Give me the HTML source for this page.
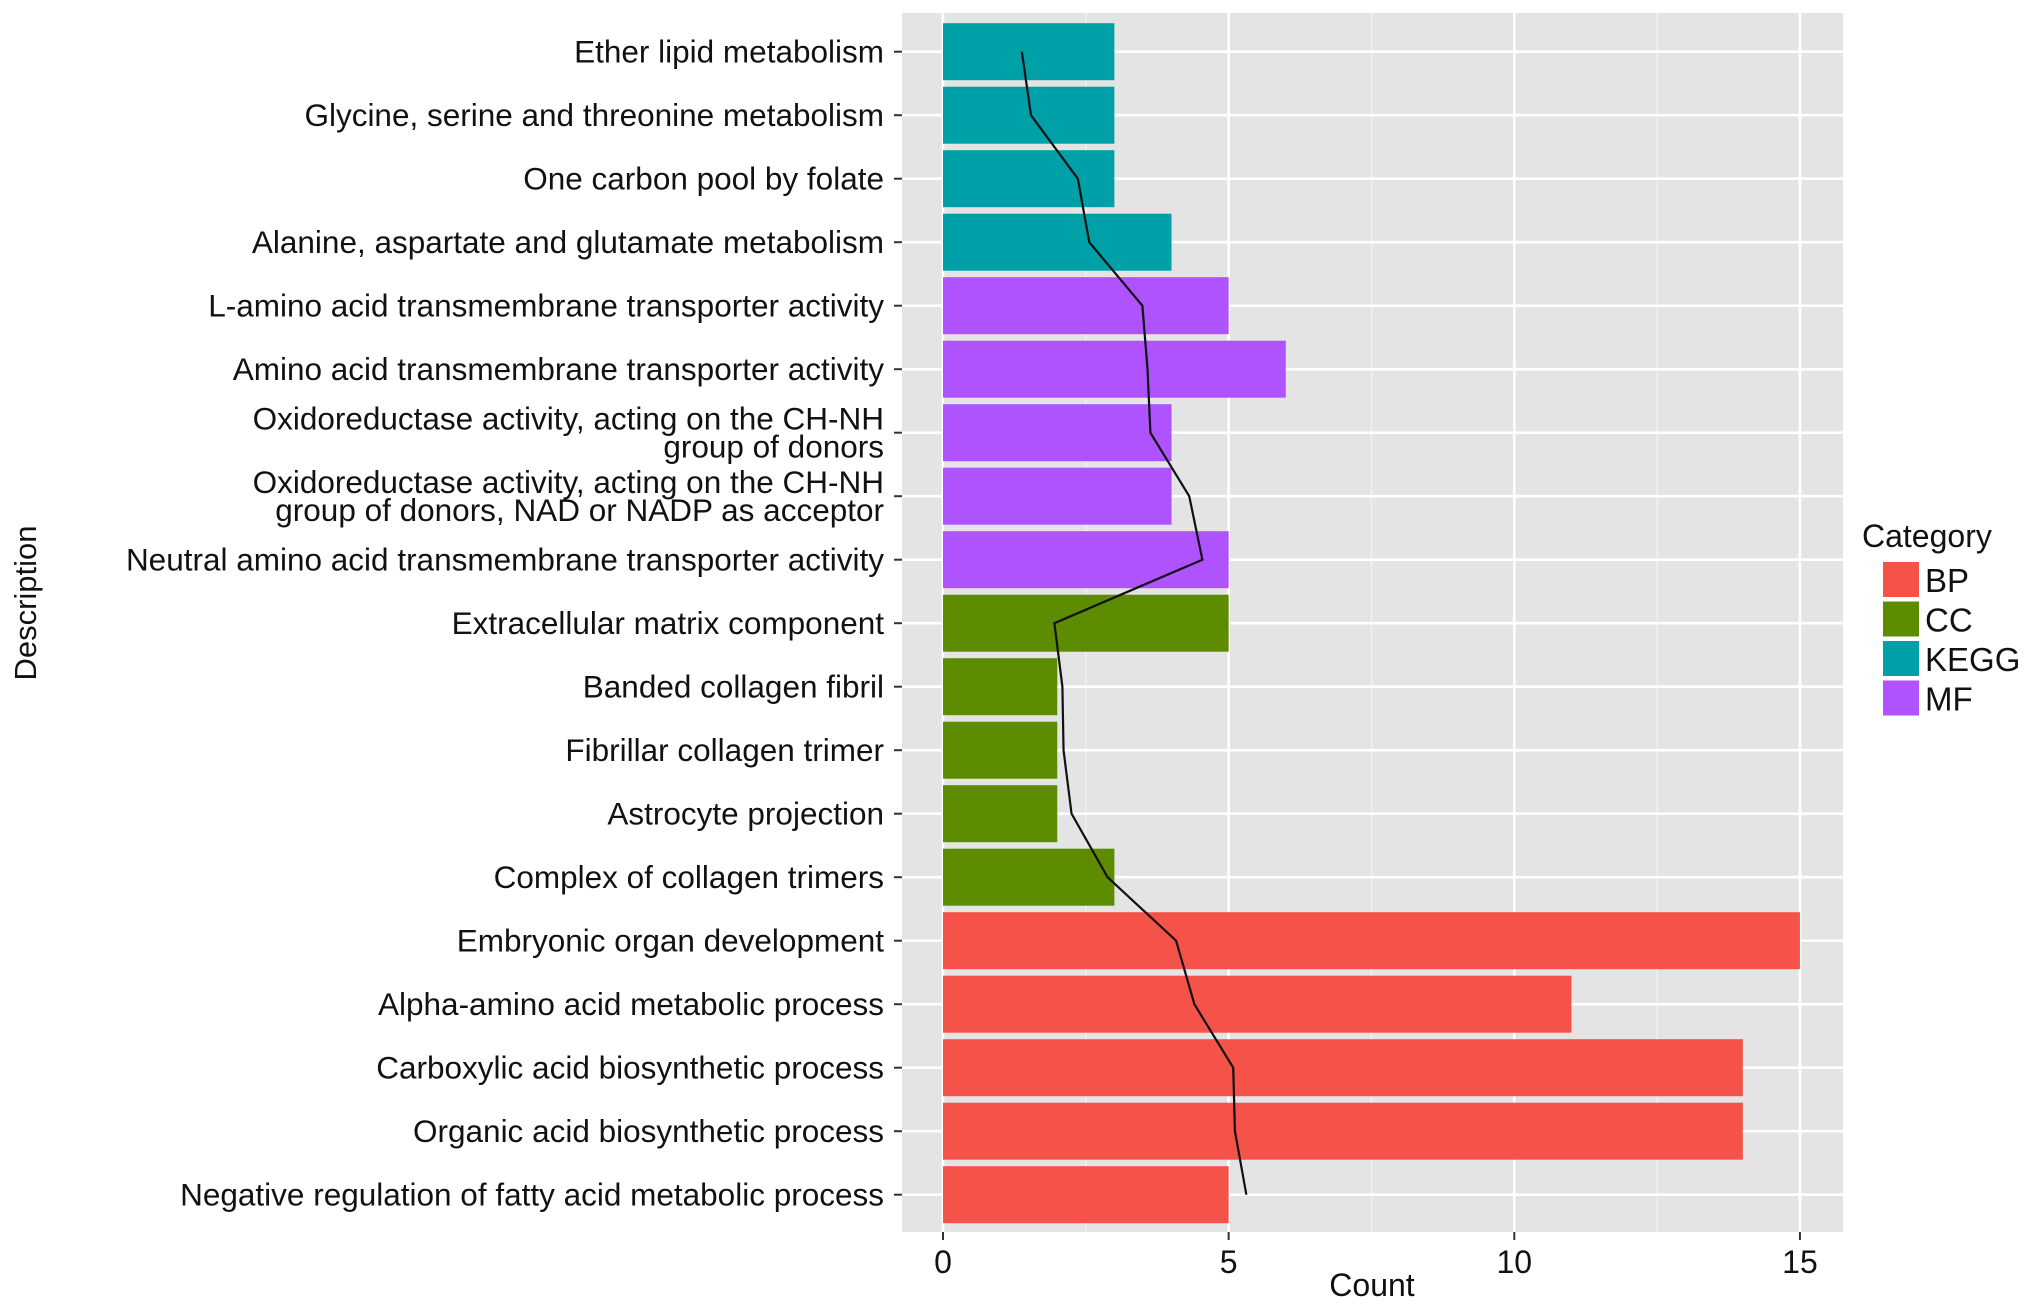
<!DOCTYPE html>
<html><head><meta charset="utf-8"><style>
html,body{margin:0;padding:0;background:#fff;}
svg{display:block;font-family:"Liberation Sans",Arial,sans-serif;}
</style></head><body>
<svg id="chart" width="2032" height="1310" viewBox="0 0 2032 1310" xmlns="http://www.w3.org/2000/svg">
<rect x="902" y="13" width="941" height="1219" fill="#E4E4E4"/>
<g id="grid"></g><g id="bars"></g><g id="line"></g><g id="yaxis"></g><g id="xaxis"></g>
<text x="1372" y="1296" font-size="32" text-anchor="middle" fill="#111">Count</text>
<text transform="translate(36,603) rotate(-90)" font-size="31" text-anchor="middle" fill="#111">Description</text>
<g>
<text x="1862" y="547" font-size="32" fill="#111">Category</text>
<g id="legend"></g>
</g>
</svg>
<script>
const labels=[["Ether lipid metabolism"],["Glycine, serine and threonine metabolism"],["One carbon pool by folate"],["Alanine, aspartate and glutamate metabolism"],["L-amino acid transmembrane transporter activity"],["Amino acid transmembrane transporter activity"],["Oxidoreductase activity, acting on the CH-NH","group of donors"],["Oxidoreductase activity, acting on the CH-NH","group of donors, NAD or NADP as acceptor"],["Neutral amino acid transmembrane transporter activity"],["Extracellular matrix component"],["Banded collagen fibril"],["Fibrillar collagen trimer"],["Astrocyte projection"],["Complex of collagen trimers"],["Embryonic organ development"],["Alpha-amino acid metabolic process"],["Carboxylic acid biosynthetic process"],["Organic acid biosynthetic process"],["Negative regulation of fatty acid metabolic process"]];
const categories=["KEGG","KEGG","KEGG","KEGG","MF","MF","MF","MF","MF","CC","CC","CC","CC","CC","BP","BP","BP","BP","BP"];
const counts=[3,3,3,4,5,6,4,4,5,5,2,2,2,3,15,11,14,14,5];
const lineValues=[1.38,1.54,2.36,2.56,3.49,3.58,3.63,4.31,4.54,1.95,2.09,2.11,2.25,2.88,4.08,4.40,5.08,5.11,5.31];
const xTicks=[0,5,10,15];
const xMinor=[2.5,7.5,12.5];
const legendCats=["BP","CC","KEGG","MF"];
const colors={BP:"#F5524A",CC:"#5E8C00",KEGG:"#00A0A8",MF:"#AF52FF"};
const NS="http://www.w3.org/2000/svg";
const x=v=>943+v*57.13;
const y=i=>51.7+i*63.5;
const bh=57;
function mk(t,a,p){const e=document.createElementNS(NS,t);for(const k in a)e.setAttribute(k,a[k]);p.appendChild(e);return e;}
const grid=document.getElementById('grid');
xMinor.forEach(v=>{const l=mk('line',{x1:x(v),x2:x(v),y1:13,y2:1232,stroke:'#F2F2F2','stroke-width':1.3},grid);

});
xTicks.forEach(v=>{const l=mk('line',{x1:x(v),x2:x(v),y1:13,y2:1232,stroke:'#fff','stroke-width':2.6},grid);

});
labels.forEach((_,i)=>{const l=mk('line',{x1:902,x2:1843,y1:y(i),y2:y(i),stroke:'#fff','stroke-width':2.6},grid);

});
const bars=document.getElementById('bars');
counts.forEach((c,i)=>{const r=mk('rect',{x:x(0),y:y(i)-bh/2,width:x(c)-x(0),height:bh,fill:colors[categories[i]]},bars);

});
const pl=mk('polyline',{points:lineValues.map((v,i)=>x(v)+','+y(i)).join(' '),fill:'none',stroke:'#111','stroke-width':2.2},document.getElementById('line'));


const ya=document.getElementById('yaxis');
labels.forEach((lb,i)=>{
 const tk=mk('line',{x1:894,x2:902,y1:y(i),y2:y(i),stroke:'#333','stroke-width':2},ya);
 
 
 const t=mk('text',{x:884,'font-size':31.5,'text-anchor':'end',fill:'#111'},ya);
 
 
 const n=lb.length, off=-(n-1)*28/2;
 lb.forEach((s,j)=>{const ts=mk('tspan',{x:884,y:y(i)+off+j*28+11},t);ts.textContent=s;});
});
const xa=document.getElementById('xaxis');
xTicks.forEach(v=>{
 const tk=mk('line',{x1:x(v),x2:x(v),y1:1232,y2:1240,stroke:'#333','stroke-width':2},xa);
 
 
 const t=mk('text',{x:x(v),y:1273,'font-size':32,'text-anchor':'middle',fill:'#111'},xa);
 
 
 t.textContent=v;});
const lg=document.getElementById('legend');
legendCats.forEach((c,i)=>{
 const r=mk('rect',{x:1883,y:562+i*39.5,width:36,height:35,fill:colors[c]},lg);
 
 
 const t=mk('text',{x:1925,y:592+i*39.5,'font-size':33,fill:'#111'},lg);
 
 
 t.textContent=c;});
</script>
</body></html>
